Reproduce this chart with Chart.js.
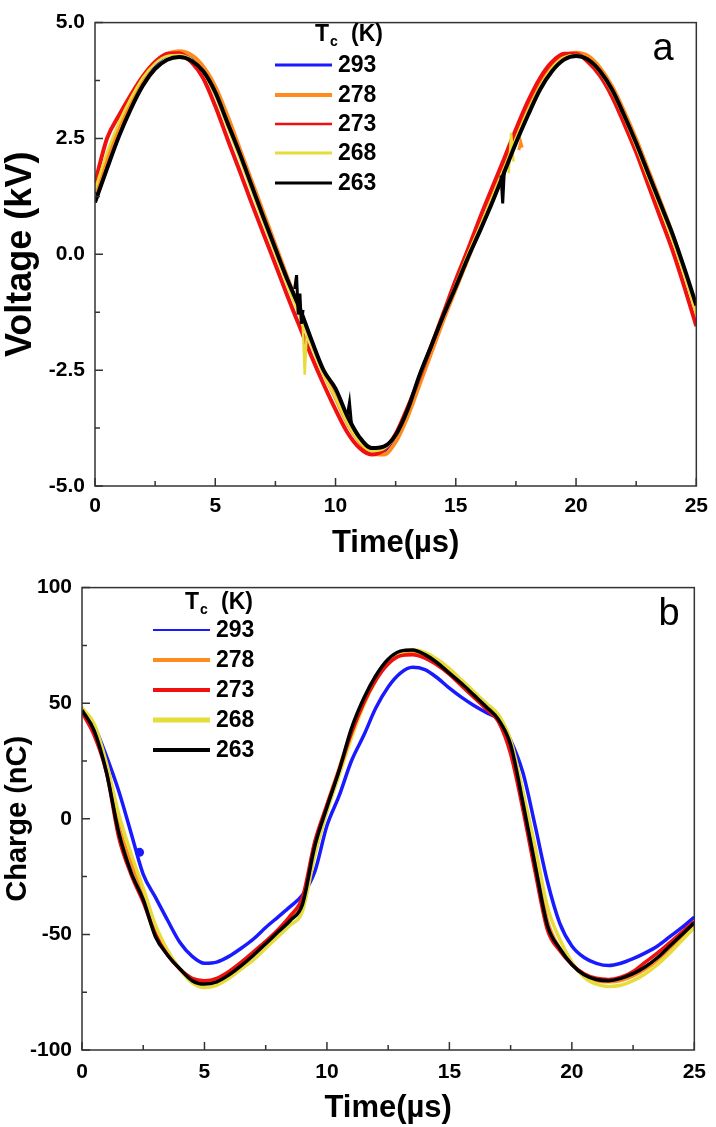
<!DOCTYPE html>
<html>
<head>
<meta charset="utf-8">
<script src="https://cdn.jsdelivr.net/npm/chart.js@4.4.1/dist/chart.umd.min.js"></script>
<style>
  html, body { margin: 0; padding: 0; background: #fff; }
  #wrap { position: relative; width: 716px; height: 1127px; }
  canvas { position: absolute; left: 0; }
</style>
</head>
<body>
<div id="wrap">
  <canvas id="chartA" width="716" height="565" style="top:0"></canvas>
  <canvas id="chartB" width="716" height="562" style="top:565px"></canvas>
</div>
<script>
// time axis shared by both panels (µs)
const timeUs = [0, 0.5, 1, 1.5, 2, 2.5, 3, 3.5, 4, 4.5, 5, 5.5, 6, 6.5, 7, 7.5, 8, 8.5, 9, 9.5,
  10, 10.5, 11, 11.5, 12, 12.5, 13, 13.5, 14, 14.5, 15, 15.5, 16, 16.5, 17, 17.5, 18, 18.5, 19, 19.5,
  20, 20.5, 21, 21.5, 22, 22.5, 23, 23.5, 24, 24.5, 25];
const tempLabels = ['293', '278', '273', '268', '263'];
const xTicks = [0, 5, 10, 15, 20, 25];
const xMinor = [2.5, 7.5, 12.5, 17.5, 22.5];
const yTicksA = [-5, -2.5, 0, 2.5, 5];
const yMinorA = [-3.75, -1.25, 1.25, 3.75];
const yTicksB = [-100, -50, 0, 50, 100];
const yMinorB = [-75, -25, 25, 75];

// panel a: voltage (kV)
const voltage293 = [1.3, 2.05, 2.72, 3.28, 3.75, 4.1, 4.3, 4.35, 4.28, 4.0, 3.55, 2.92, 2.25, 1.55, 0.85, 0.15, -0.55, -1.22, -1.9, -2.52,
  -3.08, -3.6, -4.02, -4.25, -4.25, -3.98, -3.45, -2.75, -2.05, -1.35, -0.7, -0.05, 0.58, 1.2, 1.85, 2.48, 3.08, 3.62, 4.02, 4.27,
  4.33, 4.25, 3.98, 3.58, 3.04, 2.44, 1.78, 1.1, 0.42, -0.35, -1.18];
const voltage278 = [1.35, 2.1, 2.75, 3.3, 3.8, 4.15, 4.32, 4.38, 4.3, 4.05, 3.62, 3.0, 2.3, 1.6, 0.9, 0.2, -0.5, -1.2, -1.9, -2.55,
  -3.1, -3.65, -4.05, -4.3, -4.32, -4.05, -3.5, -2.8, -2.1, -1.4, -0.75, -0.1, 0.55, 1.2, 1.85, 2.5, 3.1, 3.65, 4.05, 4.28,
  4.35, 4.28, 4.02, 3.62, 3.08, 2.48, 1.82, 1.15, 0.45, -0.35, -1.2];
const voltage273 = [1.54, 2.5, 3.0, 3.45, 3.85, 4.15, 4.33, 4.34, 4.15, 3.8, 3.2, 2.5, 1.82, 1.12, 0.45, -0.22, -0.9, -1.55, -2.2, -2.8,
  -3.35, -3.85, -4.18, -4.32, -4.22, -3.88, -3.3, -2.65, -1.95, -1.25, -0.55, 0.1, 0.78, 1.42, 2.05, 2.7, 3.3, 3.8, 4.15, 4.33,
  4.33, 4.15, 3.85, 3.4, 2.82, 2.2, 1.5, 0.8, 0.1, -0.7, -1.55];
const voltage268 = [1.4, 2.2, 2.85, 3.38, 3.82, 4.12, 4.28, 4.3, 4.2, 3.92, 3.42, 2.75, 2.08, 1.38, 0.68, 0.0, -0.68, -1.32, -1.98, -2.6,
  -3.1, -3.65, -4.05, -4.25, -4.2, -3.92, -3.38, -2.65, -1.95, -1.28, -0.65, 0.0, 0.6, 1.22, 1.85, 2.5, 3.1, 3.62, 4.02, 4.25,
  4.3, 4.2, 3.92, 3.5, 2.95, 2.32, 1.65, 1.0, 0.32, -0.45, -1.3];
const voltage263 = [1.12, 1.85, 2.55, 3.15, 3.65, 4.0, 4.2, 4.26, 4.18, 3.95, 3.5, 2.85, 2.2, 1.5, 0.8, 0.12, -0.55, -1.15, -1.85, -2.5,
  -2.9, -3.5, -3.95, -4.18, -4.15, -3.9, -3.35, -2.6, -1.95, -1.3, -0.7, -0.08, 0.5, 1.1, 1.75, 2.4, 3.0, 3.55, 3.95, 4.2,
  4.28, 4.2, 3.95, 3.55, 3.0, 2.4, 1.75, 1.1, 0.45, -0.3, -1.1];
// short noise bursts on the recorded traces, one list per burst: [t, kV]
const spikeV263 = [
  [[8.3, -0.75], [8.38, -0.45], [8.45, -1.3], [8.52, -0.85], [8.58, -1.5], [8.65, -1.2]],
  [[10.5, -3.45], [10.58, -3.2], [10.66, -3.65]],
  [[16.88, 1.7], [16.95, 1.1], [17.02, 1.82]]
];
const spikeV268 = [
  [[8.62, -1.3], [8.72, -2.6], [8.8, -1.75]],
  [[17.2, 1.75], [17.3, 2.62], [17.4, 2.0]]
];
const spikeV278 = [
  [[17.62, 2.25], [17.7, 2.42], [17.76, 2.3]]
];

// panel b: charge (nC)
const charge293 = [47, 40, 27, 12, -6, -24, -34, -44, -53.5, -59.5, -62.5, -62, -59.5, -56, -52, -47, -42.5, -38, -33, -23,
  -3, 10, 25, 36, 48, 57, 63, 65.5, 64.5, 61, 56.5, 52.5, 49, 46, 43, 34, 20, -3, -27, -45,
  -55, -60, -62.5, -63.5, -62.5, -60.5, -58, -55, -51, -47, -42.5];
const charge278 = [47, 38, 22, -3, -19, -32, -47, -58, -65, -70, -71, -70, -67, -63, -58.5, -53.5, -48.5, -43, -36, -11,
  6, 22, 38, 51, 61, 68, 71.5, 72, 70.5, 67.5, 63.5, 58.5, 53.5, 48.5, 43, 31, 8, -17, -44, -56,
  -63, -67.5, -70, -70.5, -70, -68, -65, -61, -56, -51, -46];
const charge273 = [46, 36, 20, -8, -24, -36, -50, -59, -65, -69, -70, -69, -66, -62, -57.5, -53, -48, -42, -34, -10,
  6, 21, 37, 50, 60, 67, 70.5, 71, 69.5, 66.5, 62.5, 57.5, 52.5, 47.5, 42, 28, 4, -23, -48, -57,
  -63, -67, -69, -69.5, -68.5, -66, -62, -58, -53.5, -49, -44.5];
const charge268 = [48, 41, 24, 2, -15, -30, -46, -57, -65, -71, -73, -72, -69, -65, -61, -56, -51, -46, -40, -16,
  3, 19, 35, 49, 60, 68, 72, 73, 72, 69, 65, 60, 55, 50, 45, 34, 12, -12, -38, -52,
  -62, -68.5, -71.5, -72.5, -72, -70, -67, -63, -58, -52.5, -47];
const charge263 = [47, 38, 20, -6, -23, -35, -51, -59, -65, -70, -71.5, -70.5, -67.5, -63.5, -59, -54, -49, -44, -37, -12,
  5, 21, 39, 52, 62, 69, 72.5, 73, 71, 67.5, 63, 58.5, 53.5, 48.5, 43, 32, 7, -20, -46, -56,
  -63, -67.5, -69.5, -70, -69, -67, -64, -60, -55, -50, -45];
const dotQ293 = [[2.35, -14.5]];

const seriesColors = {
  '293': '#1a1aff',
  '278': '#ff8a1e',
  '273': '#f01010',
  '268': '#e6dc3c',
  '263': '#000000'
};

const FONT = "'Liberation Sans', Arial, sans-serif";

function pts(xs, ys) {
  return xs.map((x, i) => ({ x, y: ys[i] }));
}

function pairs(list) {
  return list.map(([x, y]) => ({ x, y }));
}

function lineSet(label, data, width, order) {
  return {
    label,
    data,
    borderColor: seriesColors[label],
    backgroundColor: seriesColors[label],
    borderWidth: width,
    pointRadius: 0,
    cubicInterpolationMode: 'monotone',
    order
  };
}

// each burst becomes its own straight-segment dataset so bursts are not joined
function burstSets(label, bursts, width, order) {
  return bursts.map((b) => Object.assign(lineSet(label, pairs(b), width, order), {
    cubicInterpolationMode: 'default',
    tension: 0
  }));
}

// frame, inward ticks, legend and captions, drawn on top of the datasets
const framePlugin = {
  id: 'frame',
  afterDatasetsDraw(chart, _args, o) {
    const { ctx, chartArea: a, scales: { x, y } } = chart;
    ctx.save();
    ctx.strokeStyle = '#333';
    ctx.lineWidth = 1.5;
    ctx.strokeRect(a.left, a.top, a.right - a.left, a.bottom - a.top);

    ctx.beginPath();
    const tickX = (v, len) => {
      const px = x.getPixelForValue(v);
      ctx.moveTo(px, a.bottom);
      ctx.lineTo(px, a.bottom - len);
    };
    const tickY = (v, len) => {
      const py = y.getPixelForValue(v);
      ctx.moveTo(a.left, py);
      ctx.lineTo(a.left + len, py);
    };
    xTicks.forEach((v) => tickX(v, 8));
    xMinor.forEach((v) => tickX(v, 5));
    o.yMajor.forEach((v) => tickY(v, 8));
    o.yMinor.forEach((v) => tickY(v, 5));
    ctx.stroke();

    // legend
    const lg = o.legend;
    ctx.fillStyle = '#000';
    ctx.textBaseline = 'middle';
    ctx.textAlign = 'left';
    ctx.font = 'bold 23px ' + FONT;
    ctx.fillText('T', lg.titleX, lg.titleY);
    const tw = ctx.measureText('T').width;
    ctx.font = 'bold 14px ' + FONT;
    ctx.fillText('c', lg.titleX + tw + 1, lg.titleY + 7);
    ctx.font = 'bold 23px ' + FONT;
    ctx.fillText('(K)', lg.kX, lg.titleY);
    tempLabels.forEach((t, i) => {
      const ry = lg.rows[i];
      ctx.beginPath();
      ctx.strokeStyle = seriesColors[t];
      ctx.lineWidth = lg.widths[i];
      ctx.moveTo(lg.x0, ry);
      ctx.lineTo(lg.x1, ry);
      ctx.stroke();
      ctx.fillText(t, lg.x1 + 6, ry + 1);
    });

    // panel letter
    ctx.font = '38px ' + FONT;
    ctx.textAlign = 'center';
    ctx.fillText(o.letter, o.letterX, o.letterY);

    // axis titles
    ctx.font = 'bold ' + o.xTitleSize + 'px ' + FONT;
    ctx.fillText(o.xTitle, (a.left + a.right) / 2, o.xTitleY);
    ctx.font = 'bold ' + o.yTitleSize + 'px ' + FONT;
    ctx.translate(o.yTitleX, (a.top + a.bottom) / 2);
    ctx.rotate(-Math.PI / 2);
    ctx.fillText(o.yTitle, 0, 0);
    ctx.restore();
  }
};

function makeChart(id, cfg) {
  const canvas = document.getElementById(id);
  return new Chart(canvas.getContext('2d'), {
    type: 'line',
    data: { datasets: cfg.datasets },
    options: {
      responsive: false,
      animation: false,
      events: [],
      layout: { padding: { top: cfg.padTop, right: cfg.padRight, left: 0, bottom: 0 } },
      plugins: { legend: { display: false }, tooltip: { enabled: false }, frame: cfg.frame },
      scales: {
        x: {
          type: 'linear',
          min: 0,
          max: 25,
          afterFit: (s) => { s.height = cfg.xAxisH; },
          afterBuildTicks: (s) => { s.ticks = xTicks.map((v) => ({ value: v })); },
          grid: { display: false, drawTicks: false },
          border: { display: false },
          ticks: { padding: cfg.xPad, color: '#000', font: { family: FONT, size: 21, weight: 'bold' } }
        },
        y: {
          type: 'linear',
          min: cfg.yMin,
          max: cfg.yMax,
          afterFit: (s) => { s.width = cfg.yAxisW; },
          afterBuildTicks: (s) => { s.ticks = cfg.frame.yMajor.map((v) => ({ value: v })); },
          grid: { display: false, drawTicks: false },
          border: { display: false },
          ticks: {
            padding: 10,
            color: '#000',
            font: { family: FONT, size: 21, weight: 'bold' },
            callback: cfg.yFormat
          }
        }
      }
    },
    plugins: [framePlugin]
  });
}

makeChart('chartA', {
  padTop: 13,
  padRight: 19,
  xAxisH: 79,
  xPad: 8,
  yAxisW: 95,
  yMin: -5,
  yMax: 5,
  yFormat: (v) => v.toFixed(1),
  datasets: [
    lineSet('263', pts(timeUs, voltage263), 4, 0),
    ...burstSets('263', spikeV263, 3, 0),
    lineSet('268', pts(timeUs, voltage268), 2.5, 1),
    ...burstSets('268', spikeV268, 2.5, 1),
    lineSet('273', pts(timeUs, voltage273), 4, 2),
    lineSet('278', pts(timeUs, voltage278), 4, 3),
    ...burstSets('278', spikeV278, 3, 3),
    lineSet('293', pts(timeUs, voltage293), 3, 4)
  ],
  frame: {
    yMajor: yTicksA,
    yMinor: yMinorA,
    letter: 'a',
    letterX: 663,
    letterY: 50,
    xTitle: 'Time(\u00b5s)',
    xTitleY: 543,
    xTitleSize: 31,
    yTitle: 'Voltage (kV)',
    yTitleX: 21,
    yTitleSize: 36,
    legend: {
      titleX: 315,
      kX: 351,
      titleY: 35,
      x0: 275,
      x1: 332,
      rows: [65, 95, 124, 153, 183],
      widths: [3, 4, 2.5, 3, 3]
    }
  }
});

makeChart('chartB', {
  padTop: 12,
  padRight: 16,
  xAxisH: 77,
  xPad: 10,
  yAxisW: 82,
  yMin: -100,
  yMax: 100,
  yFormat: (v) => String(v),
  datasets: [
    lineSet('263', pts(timeUs, charge263), 3.5, 0),
    lineSet('273', pts(timeUs, charge273), 3.5, 1),
    lineSet('268', pts(timeUs, charge268), 3.5, 2),
    lineSet('278', pts(timeUs, charge278), 3.5, 3),
    lineSet('293', pts(timeUs, charge293), 3.5, 4),
    Object.assign(lineSet('293', pairs(dotQ293), 0, 4), { pointRadius: 4.5, showLine: false })
  ],
  frame: {
    yMajor: yTicksB,
    yMinor: yMinorB,
    letter: 'b',
    letterX: 669,
    letterY: 50,
    xTitle: 'Time(\u00b5s)',
    xTitleY: 543,
    xTitleSize: 31,
    yTitle: 'Charge (nC)',
    yTitleX: 18,
    yTitleSize: 29,
    legend: {
      titleX: 185,
      kX: 221,
      titleY: 38,
      x0: 153,
      x1: 210,
      rows: [65, 95, 125, 155, 185],
      widths: [2, 4, 4, 5, 4]
    }
  }
});
</script>
</body>
</html>
